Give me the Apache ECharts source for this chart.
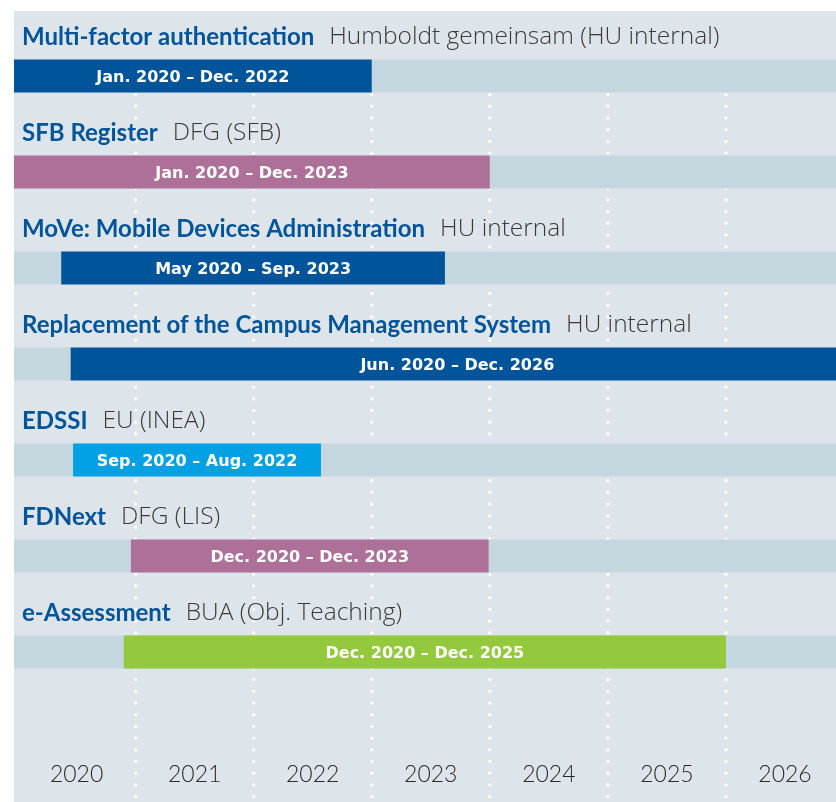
<!DOCTYPE html>
<html>
<head>
<meta charset="utf-8">
<script src="https://cdn.jsdelivr.net/npm/echarts@6/dist/echarts.min.js"></script>
<style>
  html, body { margin: 0; padding: 0; background: #fff; }
  #chart { width: 836px; height: 802px; }
</style>
</head>
<body>
<div id="chart"></div>
<script>
// project rows, top to bottom
var projects = ['Multi-factor authentication', 'SFB Register', 'MoVe: Mobile Devices Administration',
    'Replacement of the Campus Management System', 'EDSSI', 'FDNext', 'e-Assessment'];
var funders = ['Humboldt gemeinsam (HU internal)', 'DFG (SFB)', 'HU internal', 'HU internal',
    'EU (INEA)', 'DFG (LIS)', 'BUA (Obj. Teaching)'];
var periods = ['Jan. 2020 \u2013 Dec. 2022', 'Jan. 2020 \u2013 Dec. 2023', 'May 2020 \u2013 Sep. 2023',
    'Jun. 2020 \u2013 Dec. 2026', 'Sep. 2020 \u2013 Aug. 2022', 'Dec. 2020 \u2013 Dec. 2023',
    'Dec. 2020 \u2013 Dec. 2025'];
// bar start / end (fractional years)
var starts = [2019.97, 2019.97, 2020.37, 2020.45, 2020.47, 2020.96, 2020.90];
var ends = [2023.00, 2024.00, 2023.62, 2027.00, 2022.57, 2023.99, 2026.00];
var funderType = ['hu', 'dfg', 'hu', 'hu', 'eu', 'dfg', 'bua'];
var yearLabels = [2020, 2021, 2022, 2023, 2024, 2025, 2026];
var gridYears = [2021, 2022, 2023, 2024, 2025, 2026];

var typeColors = { hu: '#00549a', dfg: '#ad7199', eu: '#00a1e2', bua: '#94c83d' };
var axisMin = 2019.97, axisMax = 2027;

var chart = echarts.init(document.getElementById('chart'));

var barData = projects.map(function (p, i) {
    return [i, starts[i], ends[i]];
});

function renderBar(params, api) {
    var i = api.value(0);
    var cy = api.coord([axisMin, i])[1];
    var x0 = api.coord([api.value(1), i])[0];
    var x1 = api.coord([api.value(2), i])[0];
    var barH = 33;
    var barY = cy + 16 - barH / 2;
    var left = params.coordSys.x;
    return {
        type: 'group',
        children: [
            { type: 'rect', shape: { x: left, y: barY, width: api.getWidth() - left, height: barH },
              style: { fill: '#c4d7df' } },
            { type: 'rect', shape: { x: x0, y: barY, width: x1 - x0, height: barH },
              style: { fill: typeColors[funderType[i]] } },
            { type: 'text', x: (x0 + x1) / 2, y: barY + barH / 2 + 2,
              style: { text: periods[i], fill: '#fff', align: 'center', verticalAlign: 'middle',
                       font: 'bold 16px "DejaVu Sans"' } },
            { type: 'text', x: left + 8, y: cy - 23,
              style: {
                  text: '{n|' + projects[i] + '}{f|' + funders[i] + '}',
                  verticalAlign: 'middle',
                  rich: {
                      n: { fontFamily: 'Lato', fontWeight: 'bold', fontSize: 24, fill: '#00549a', color: '#00549a' },
                      f: { fontFamily: 'Open Sans', fontWeight: 300, fontSize: 24.5, fill: '#3a3a3a', color: '#3a3a3a',
                           padding: [0, 0, 0, 15] }
                  }
              } }
        ]
    };
}

function renderGridLine(params, api) {
    var x = api.coord([api.value(0), 0])[0];
    var top = api.coord([axisMin, 0])[1] + 16 + 33 / 2 + 2;
    return {
        type: 'line',
        shape: { x1: x, y1: top, x2: x, y2: api.getHeight() },
        style: { stroke: '#ffffff', lineWidth: 3.2, lineDash: [0.1, 11.6], lineCap: 'round' }
    };
}

var option = {
    animation: false,
    backgroundColor: '#ffffff',
    graphic: [{
        type: 'rect', left: 14, top: 11, z: -10,
        shape: { width: 822, height: 791 },
        style: { fill: '#dee5ea' }
    }],
    grid: { left: 14, top: 12, width: 830, height: 672, containLabel: false, outerBoundsMode: 'none' },
    xAxis: {
        type: 'value', min: axisMin, max: axisMax,
        axisLine: { show: false }, axisTick: { show: false }, splitLine: { show: false },
        axisLabel: {
            customValues: yearLabels.map(function (y) { return y + 0.5; }),
            formatter: function (v) { return String(Math.floor(v)); },
            margin: 91, verticalAlign: 'middle',
            fontFamily: 'Lato', fontWeight: 300, fontSize: 23, color: '#2a2a2a'
        }
    },
    yAxis: {
        type: 'category', inverse: true, show: false,
        data: projects
    },
    series: [
        { type: 'custom', z: 1, renderItem: renderGridLine, data: gridYears.map(function (y) { return [y]; }),
          encode: { x: 0 }, clip: false, silent: true },
        { type: 'custom', z: 2, renderItem: renderBar, data: barData,
          encode: { y: 0, x: [1, 2] }, clip: false }
    ]
};

chart.setOption(option);
</script>
</body>
</html>
